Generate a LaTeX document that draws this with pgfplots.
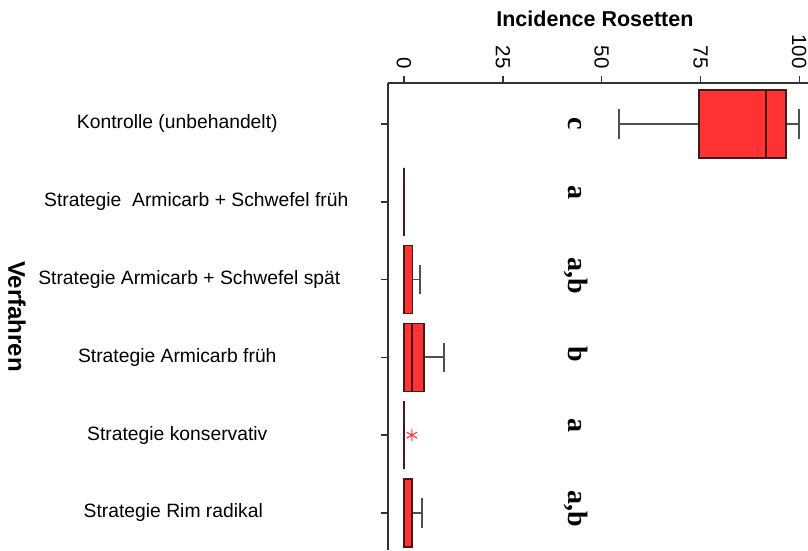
\documentclass[border=0pt]{standalone}
\usepackage{pgfplots}
\pgfplotsset{compat=1.18}
\usepgfplotslibrary{statistics}
\usepackage{fontspec}
\setmainfont{Liberation Sans}
\newfontfamily\tnr{Liberation Serif}
\definecolor{boxred}{RGB}{255,51,51}
\definecolor{boxedge}{RGB}{70,25,25}
\definecolor{whisk}{RGB}{80,80,80}
\newcommand{\lab}[1]{\makebox[340pt][c]{#1}}
\begin{document}
\begin{tikzpicture}
\begin{axis}[
  name=ax,
  scale only axis,
  width=420pt, height=467pt,
  xmin=-4.05, xmax=102.2,
  ymin=-0.476, ymax=5.527,
  clip=false,
  axis x line*=top,
  axis y line*=left,
  axis line style={line width=1.6pt, black!80},
  tick style={line width=1.6pt, black!80},
  tick align=outside,
  major tick length=7pt,
  xtick={0,25,50,75,100},
  ytick={0,1,2,3,4,5},
  yticklabels={
    \lab{Strategie Rim radikal\hspace{8pt}},
    \lab{Strategie konservativ},
    \lab{Strategie Armicarb früh},
    \lab{\hspace{24pt}Strategie Armicarb + Schwefel spät},
    \lab{\hspace{38pt}Strategie\ \ Armicarb + Schwefel früh},
    \lab{Kontrolle (unbehandelt)}},
  /pgf/number format/assume math mode=true,
  xticklabel shift=4pt,
  xticklabel style={rotate=-90, anchor=east, font=\fontsize{20.5}{20.5}\selectfont},
  yticklabel style={anchor=east, inner sep=0pt, xshift=-33.5pt, font=\fontsize{19.3}{19.3}\selectfont},
  boxplot/draw direction=x,
  boxplot/box extend=0.87,
  boxplot/whisker extend=0.38,
  boxplot/every box/.style={fill=boxred, draw=boxedge, line width=1.4pt},
  boxplot/every whisker/.style={draw=whisk, line width=1.8pt},
  boxplot/every median/.style={draw=boxedge, line width=2pt},
]
% Kontrolle
\addplot[boxplot prepared={lower whisker=54.3, lower quartile=74.6, median=91.5, upper quartile=96.6, upper whisker=100, draw position=5}] coordinates {};
% Armicarb + Schwefel frueh
\addplot[boxplot prepared={lower whisker=0, lower quartile=0, median=0, upper quartile=0, upper whisker=0, draw position=4}] coordinates {};
% Armicarb + Schwefel spaet
\addplot[boxplot prepared={lower whisker=0, lower quartile=0, median=0, upper quartile=2.1, upper whisker=4.1, draw position=3}] coordinates {};
% Armicarb frueh
\addplot[boxplot prepared={lower whisker=0, lower quartile=0, median=2.1, upper quartile=5.1, upper whisker=10.1, draw position=2}] coordinates {};
% konservativ
\addplot[boxplot prepared={lower whisker=0, lower quartile=0, median=0, upper quartile=0, upper whisker=0, draw position=1}] coordinates {};
\addplot[only marks, mark=asterisk, mark size=6pt, color=red!80!white, line width=1.1pt] coordinates {(2.0,1)};
% Rim radikal
\addplot[boxplot prepared={lower whisker=0, lower quartile=0, median=0, upper quartile=2.0, upper whisker=4.5, draw position=0}] coordinates {};

% significance letters
\begin{scope}[every node/.style={rotate=-90, anchor=base, font=\tnr\bfseries\fontsize{28}{28}\selectfont, inner sep=0pt}]
\node at (axis cs:41.5,5) {c};
\node at (axis cs:41.5,4.12) {a};
\node at (axis cs:41.5,3.055) {a,b};
\node at (axis cs:41.5,2.04) {b};
\node at (axis cs:41.5,1.13) {a};
\node at (axis cs:41.5,0.05) {a,b};
\end{scope}

\node[anchor=base, font=\bfseries\fontsize{21.5}{21.5}\selectfont, inner sep=0pt] at ([yshift=56pt]axis cs:48.3,5.527) {Incidence Rosetten};
\node[rotate=-90, anchor=center, font=\bfseries\fontsize{24}{24}\selectfont, inner sep=0pt] at ([xshift=-371pt]rel axis cs:0,0.5) {Verfahren};

\coordinate (BL) at (rel axis cs:0,0);
\coordinate (TR) at (rel axis cs:1,1);
\end{axis}
\pgfresetboundingbox
\path ([shift={(-388pt,-1pt)}]BL) rectangle ([shift={(0pt,83pt)}]TR);
\end{tikzpicture}
\end{document}
